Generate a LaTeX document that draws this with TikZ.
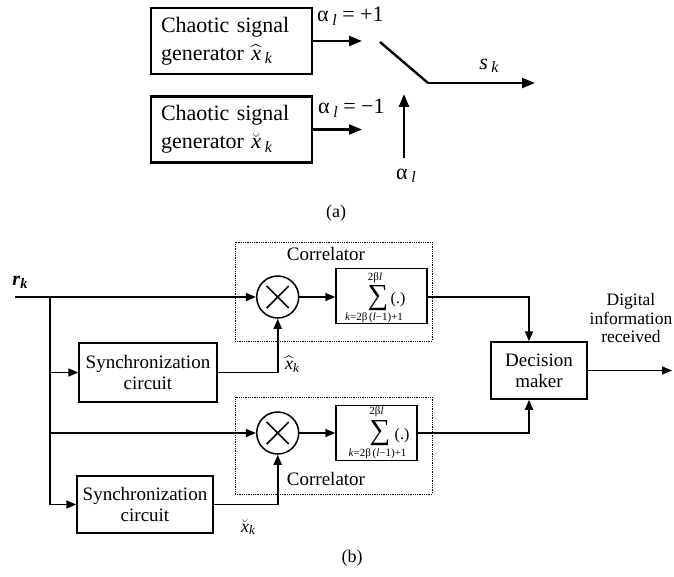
\documentclass[tikz,border=0pt]{standalone}
\usepackage{fix-cm}
\usepackage{amsmath}
\usepackage{fontspec}
\setmainfont{Liberation Serif}
\usetikzlibrary{arrows.meta,calc}
\newcommand\mysub[1]{\raisebox{-0.35ex}{\scalebox{0.72}{#1}}}
\newcommand\ital[1]{\textit{#1}}
\begin{document}
\begin{tikzpicture}[x=1pt,y=-1pt,
  fa/.style={font=\fontsize{22}{28}\selectfont},
  fb/.style={font=\fontsize{19}{21}\selectfont},
  gen/.style={draw,line width=2.2pt,text width=141pt,inner xsep=10pt,inner ysep=0pt,
    minimum height=66pt,align=left,fa},
  arra/.style={line width=2.4pt,-{Triangle[length=13pt,width=10pt]}},
  linea/.style={line width=2.4pt},
  lineb/.style={line width=1.6pt},
  arrb/.style={line width=1.6pt,-{Triangle[length=10pt,width=8pt]}},
  blk/.style={draw,line width=1.5pt,inner sep=0pt,align=center,fb},
  corr/.style={draw,line width=0.8pt,densely dotted,inner sep=0pt},
  mult/.style={circle,draw,line width=1.5pt,minimum size=42pt,inner sep=0pt,
    path picture={\draw[line width=1.5pt]
      ($(path picture bounding box.center)+(-11pt,-11pt)$) -- ($(path picture bounding box.center)+(11pt,11pt)$)
      ($(path picture bounding box.center)+(-11pt,11pt)$) -- ($(path picture bounding box.center)+(11pt,-11pt)$);}},
  sumbox/.style={draw,line width=1.5pt,inner sep=0pt},
  sig/.style={inner sep=0pt,font=\fontsize{29}{29}\selectfont},
  lim/.style={inner sep=0pt,font=\fontsize{11}{11}\selectfont},
  par/.style={inner sep=0pt,font=\fontsize{16}{16}\selectfont},
  lbl/.style={inner sep=0pt,font=\fontsize{18}{20}\selectfont}
]
\useasboundingbox (0,0) rectangle (674,577);

% ---------- (a) ----------
\node[gen] (g1) at (231.5,41) {Chaotic signal\\generator $\widehat{\text{\itshape x}}$\,\mysub{\ital{k}}};
\node[gen] (g2) at (231.5,129.5) {Chaotic signal\\generator $\breve{\text{\itshape x}}$\,\mysub{\ital{k}}};
\coordinate (g1e) at (362,41);
\coordinate (g2e) at (362,129.5);
\draw[arra] (g1.east |- g1e) -- (g1e);
\draw[arra] (g2.east |- g2e) -- (g2e);
\node[fa,anchor=west,inner sep=0pt] (lp) at (317,16) {α\,\mysub{\ital{l}} = +1};
\node[fa,anchor=west,inner sep=0pt] (lm) at (318,108) {α\,\mysub{\ital{l}} = −1};
\coordinate (sw1) at (380,42);
\coordinate (sw2) at (428,83);
\coordinate (sout) at (535,83);
\draw[linea] (sw1) -- (sw2);
\draw[arra] (sw2) -- (sout);
\node[fa,inner sep=0pt] (sk) at (489,66) {\ital{s}\,\mysub{\ital{k}}};
\coordinate (ca) at (404,158);
\coordinate (cb) at (404,94);
\draw[arra] (ca) -- (cb);
\node[fa,inner sep=0pt] (al) at (406,176) {α\,\mysub{\ital{l}}};
\node[lbl] (capa) at (336,213) {(a)};

% ---------- (b) ----------
\node[inner sep=0pt,font=\fontsize{20}{21}\selectfont] (rk) at (20,282) {\textbf{\textit{r}}\mysub{\textbf{\textit{k}}}};
\coordinate (rs) at (15,297);
\coordinate (br) at (50,297);

\node[corr,minimum width=197pt,minimum height=99pt] (c1) at (333.5,291.5) {};
\node[corr,minimum width=197pt,minimum height=97pt] (c2) at (333.5,445.5) {};
\node[fb,inner sep=0pt] (c1l) at (326,254) {Correlator};
\node[fb,inner sep=0pt] (c2l) at (326,479) {Correlator};

\node[mult] (m1) at (277.7,297) {};
\node[mult] (m2) at (277.7,433) {};

\node[sumbox,minimum width=91pt,minimum height=55pt] (s1) at (381.5,296) {};
\node[sumbox,minimum width=81pt,minimum height=55pt] (s2) at (376.5,433) {};
\node[sig] (s1g) at (378,298) {∑};
\node[lim] (s1u) at (375,278) {2β\ital{l}};
\node[lim] (s1d) at (374,317.5) {\ital{k}=2β\,(\ital{l}−1)+1};
\node[par] (s1p) at (398,300) {(.)};
\node[sig] (s2g) at (380,433) {∑};
\node[lim] (s2u) at (376.5,411.5) {2β\ital{l}};
\node[lim] (s2d) at (377.5,453.5) {\ital{k}=2β\,(\ital{l}−1)+1};
\node[par] (s2p) at (402,435.5) {(.)};

\node[blk,minimum width=138pt,minimum height=59pt] (y1) at (148,372.5) {Synchronization\\circuit};
\node[blk,minimum width=136pt,minimum height=57pt] (y2) at (145,504.5) {Synchronization\\circuit};

\node[blk,minimum width=96pt,minimum height=57pt] (dec) at (539,370.5) {Decision\\maker};
\coordinate (jx) at (529,0);
\coordinate (out) at (672,370.5);
\node[font=\fontsize{17.5}{18.5}\selectfont,align=center,inner sep=0pt] (dig) at (631,318.5) {Digital\\information\\received};

\node[lbl] (xh) at (292,364) {$\widehat{\text{\itshape x}}$\mysub{\ital{k}}};
\node[lbl] (xb) at (248,527) {$\breve{\text{\itshape x}}$\mysub{\ital{k}}};
\node[lbl] (capb) at (352,558) {(b)};

% connectors
\draw[arrb] (rs) -- (m1.west);
\draw[lineb] (br) -- (br |- y2.west);
\draw[arrb] (br |- y1.west) -- (y1.west);
\draw[arrb] (br |- y2.west) -- (y2.west);
\draw[arrb] (br |- m2.west) -- (m2.west);
\draw[arrb] (y1.east) -| (m1.south);
\draw[arrb] (y2.east) -| (m2.south);
\draw[arrb] (m1.east) -- (s1.west |- m1.east);
\draw[arrb] (m2.east) -- (s2.west);
\draw[arrb] (s1.east |- m1.east) -| (jx |- dec.north);
\draw[arrb] (s2.east) -| (jx |- dec.south);
\draw[arrb] (dec.east) -- (out);
\end{tikzpicture}
\end{document}
